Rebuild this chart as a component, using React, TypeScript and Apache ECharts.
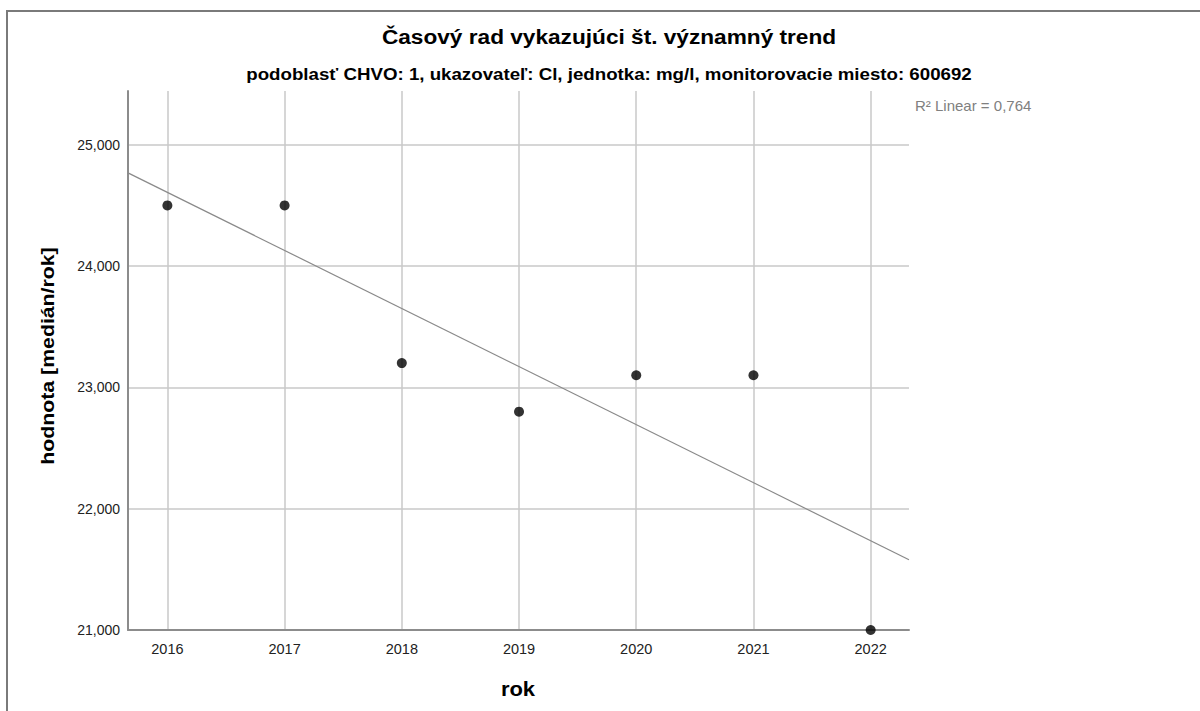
import React, { useEffect, useRef } from "react";
import * as echarts from "echarts";

// ---- data ----
const years: number[] = [2016, 2017, 2018, 2019, 2020, 2021, 2022];
const medians: number[] = [24.5, 24.5, 23.2, 22.8, 23.1, 23.1, 21.0];
const yTickValues: number[] = [21, 22, 23, 24, 25];
const xTickValues: number[] = [2016, 2017, 2018, 2019, 2020, 2021, 2022];

const titleText = "Časový rad vykazujúci št. významný trend";
const subtitleText =
  "podoblasť CHVO: 1, ukazovateľ: Cl, jednotka: mg/l, monitorovacie miesto: 600692";
const xAxisName = "rok";
const yAxisName = "hodnota [medián/rok]";

const X_MIN = 2015.664;
const X_MAX = 2022.327;
const Y_MIN = 21;
const Y_MAX = 25.443;

// linear fit (trend line) computed from the data above
function linearFit(xs: number[], ys: number[]) {
  const n = xs.length;
  const mx = xs.reduce((a, b) => a + b, 0) / n;
  const my = ys.reduce((a, b) => a + b, 0) / n;
  let sxy = 0,
    sxx = 0,
    syy = 0;
  for (let i = 0; i < n; i++) {
    sxy += (xs[i] - mx) * (ys[i] - my);
    sxx += (xs[i] - mx) ** 2;
    syy += (ys[i] - my) ** 2;
  }
  const slope = sxy / sxx;
  const intercept = my - slope * mx;
  const r2 = (sxy * sxy) / (sxx * syy);
  return { slope, intercept, r2 };
}

const FONT = "'Liberation Sans', Arial, sans-serif";

export default function App() {
  const ref = useRef<HTMLDivElement>(null);

  useEffect(() => {
    if (!ref.current) return;
    const chart = echarts.init(ref.current, null, { renderer: "svg" });
    const fit = linearFit(years, medians);
    const trend = [
      [X_MIN, fit.intercept + fit.slope * X_MIN],
      [X_MAX, fit.intercept + fit.slope * X_MAX],
    ];
    const r2Text = "R² Linear = " + fit.r2.toFixed(3).replace(".", ",");

    chart.setOption({
      animation: false,
      backgroundColor: "#ffffff",
      grid: { left: 128, right: 291, top: 91, bottom: 81, containLabel: false },
      xAxis: {
        type: "value",
        min: X_MIN,
        max: X_MAX,
        splitNumber: 7,
        axisLine: { show: true, onZero: false, lineStyle: { color: "#8c8c8c", width: 2 } },
        axisTick: { show: false },
        axisLabel: {
          show: true,
          margin: 11,
          fontFamily: FONT,
          fontSize: 14.5,
          color: "#222",
          showMinLabel: false,
          showMaxLabel: false,
          formatter: (v: number) =>
            xTickValues.includes(Math.round(v * 1000) / 1000) ? String(Math.round(v)) : "",
        },
        splitLine: {
          show: true,
          showMinLine: false,
          showMaxLine: false,
          lineStyle: { color: "#c8c8c8", width: 1.5 },
        },
      },
      yAxis: {
        type: "value",
        min: Y_MIN,
        max: Y_MAX,
        splitNumber: 5,
        axisLine: { show: true, onZero: false, lineStyle: { color: "#8c8c8c", width: 2 } },
        axisTick: { show: false },
        axisLabel: {
          show: true,
          margin: 8,
          fontFamily: FONT,
          fontSize: 14,
          color: "#222",
          showMaxLabel: false,
          formatter: (v: number) =>
            yTickValues.includes(Math.round(v * 1000) / 1000)
              ? v.toFixed(3).replace(".", ",")
              : "",
        },
        splitLine: {
          show: true,
          showMinLine: false,
          showMaxLine: false,
          lineStyle: { color: "#c8c8c8", width: 1.5 },
        },
      },
      series: [
        {
          type: "line",
          data: trend,
          symbol: "none",
          clip: true,
          lineStyle: { color: "#8a8a8a", width: 1.2 },
          silent: true,
          z: 2,
        },
        {
          type: "scatter",
          data: years.map((y, i) => [y, medians[i]]),
          symbol: "circle",
          symbolSize: 10,
          clip: true,
          itemStyle: { color: "#000000" },
          z: 3,
        },
      ],
      graphic: [
        {
          type: "rect",
          shape: { x: 7, y: 11, width: 1400, height: 900 },
          style: { fill: "none", stroke: "#7a7a7a", lineWidth: 2 },
          silent: true,
          z: -1,
        },
        {
          type: "text",
          x: 609,
          y: 37,
          scaleX: 1.132,
          style: {
            text: titleText,
            fontFamily: FONT,
            fontSize: 20,
            fontWeight: "bold",
            fill: "#000",
            textAlign: "center",
            textVerticalAlign: "middle",
          },
        },
        {
          type: "text",
          x: 609,
          y: 74,
          scaleX: 1.1,
          style: {
            text: subtitleText,
            fontFamily: FONT,
            fontSize: 17,
            fontWeight: "bold",
            fill: "#000",
            textAlign: "center",
            textVerticalAlign: "middle",
          },
        },
        {
          type: "text",
          x: 915,
          y: 105,
          style: {
            text: r2Text,
            fontFamily: FONT,
            fontSize: 15,
            fill: "#808080",
            textAlign: "left",
            textVerticalAlign: "middle",
          },
        },
        {
          type: "text",
          x: 47,
          y: 356,
          rotation: Math.PI / 2,
          scaleX: 1.12,
          style: {
            text: yAxisName,
            fontFamily: FONT,
            fontSize: 19,
            fontWeight: "bold",
            fill: "#000",
            textAlign: "center",
            textVerticalAlign: "middle",
          },
        },
        {
          type: "text",
          x: 518,
          y: 689,
          scaleX: 1.1,
          style: {
            text: xAxisName,
            fontFamily: FONT,
            fontSize: 20,
            fontWeight: "bold",
            fill: "#000",
            textAlign: "center",
            textVerticalAlign: "middle",
          },
        },
      ],
    });
    return () => chart.dispose();
  }, []);

  return (
    <div
      ref={ref}
      style={{ position: "fixed", left: 0, top: 0, width: 1200, height: 711 }}
    />
  );
}
